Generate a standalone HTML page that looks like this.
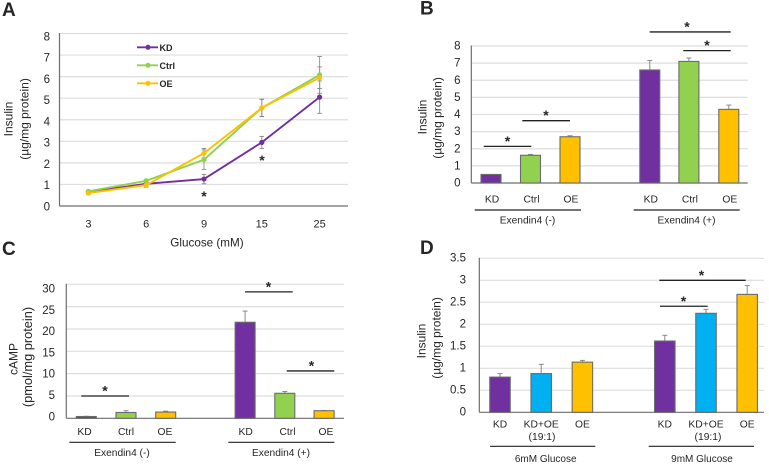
<!DOCTYPE html>
<html>
<head>
<meta charset="utf-8">
<style>
html,body{margin:0;padding:0;background:#fff;width:769px;height:464px;overflow:hidden}
svg{display:block;filter:blur(0.35px)}
text{font-family:"Liberation Sans",sans-serif;fill:#262626}
</style>
</head>
<body>
<svg id="figure" width="769" height="464" viewBox="0 0 769 464" xmlns="http://www.w3.org/2000/svg"></svg>
<script>
var PURPLE = '#7030a0', GREEN = '#92d050', YELLOW = '#ffc000', BLUE = '#00b0f0';

/* Panel A data */
var aCategories = ['3', '6', '9', '15', '25'];
var aTicks = [0, 1, 2, 3, 4, 5, 6, 7, 8];
var aKD = [0.65, 1.03, 1.25, 2.95, 5.05];
var aKDErr = [0.08, 0.15, 0.22, 0.28, 0.75];
var aCtrl = [0.68, 1.17, 2.15, 4.55, 6.08];
var aCtrlErr = [0.04, 0.05, 0.45, 0.40, 0.85];
var aOE = [0.60, 0.97, 2.45, 4.55, 5.95];
var aOEErr = [0.04, 0.10, 0.22, 0.40, 0.50];

/* Panel B data */
var bTicks = [0, 1, 2, 3, 4, 5, 6, 7, 8];
var bLabels = ['KD', 'Ctrl', 'OE', 'KD', 'Ctrl', 'OE'];
var bValues = [0.5, 1.62, 2.7, 6.6, 7.1, 4.3];
var bErrors = [0, 0.05, 0.06, 0.55, 0.2, 0.25];

/* Panel C data */
var cTicks = [0, 5, 10, 15, 20, 25, 30];
var cLabels = ['KD', 'Ctrl', 'OE', 'KD', 'Ctrl', 'OE'];
var cValues = [0.4, 1.3, 1.4, 21.5, 5.6, 1.7];
var cErrors = [0.05, 0.4, 0.2, 2.5, 0.4, 0.05];

/* Panel D data */
var dTicks = [0, 0.5, 1, 1.5, 2, 2.5, 3, 3.5];
var dLabels = ['KD', 'KD+OE', 'OE', 'KD', 'KD+OE', 'OE'];
var dValues = [0.8, 0.88, 1.14, 1.62, 2.25, 2.68];
var dErrors = [0.08, 0.21, 0.04, 0.13, 0.09, 0.2];

var NS = 'http://www.w3.org/2000/svg';
var svg = document.getElementById('figure');

function make(tag, attrs, name, parent) {
  var el = document.createElementNS(NS, tag);
  for (var k in attrs) el.setAttribute(k, attrs[k]);
  
  
  (parent || svg).appendChild(el);
  return el;
}
function line(x1, y1, x2, y2, color, w, name, parent) {
  return make('line', {x1: x1, y1: y1, x2: x2, y2: y2, stroke: color, 'stroke-width': w}, name, parent);
}
function label(x, y, str, size, anchor, name, extra) {
  var a = {x: x, y: y + 0.6, 'font-size': size, 'text-anchor': anchor || 'middle', 'dominant-baseline': 'central'};
  if (extra) for (var k in extra) a[k] = extra[k];
  var t = make('text', a, name);
  t.textContent = str;
  return t;
}
function vlabel(x, y, str, name, size) {
  return label(0, 0, str, size || 12, 'middle', name, {transform: 'translate(' + x + ',' + y + ') rotate(-90)'});
}
function star(x, y, name) {
  return label(x, y + 2.4, '*', 14, 'middle', name, {'font-weight': 'bold'});
}
function linScale(d0, d1, r0, r1) {
  return function (v) { return r0 + (v - d0) * (r1 - r0) / (d1 - d0); };
}

function drawFrame(id, ticks, y, xAxis, xRight, tickRight, labelY) {
  ticks.forEach(function (t) {
    if (t !== ticks[0]) line(xAxis, y(t), xRight, y(t), '#dedede', 1.2, id + '-gridline-' + t);
    label(tickRight, labelY(t), String(t), 11.5, 'end', id + '-y-tick-' + t);
  });
  line(xAxis, y(ticks[ticks.length - 1]) - 0.5, xAxis, y(ticks[0]), '#6e6e6e', 1.2, id + '-y-axis');
  line(xAxis, y(ticks[0]), xRight, y(ticks[0]), '#6e6e6e', 1.2, id + '-x-axis');
}

function drawBars(id, values, errors, colors, xPos, y, width) {
  values.forEach(function (v, i) {
    var cx = xPos(i);
    if (errors[i] > 0) {
      line(cx, y(v), cx, y(v + errors[i]), '#8a8a8a', 1, id + '-error-bar-' + i);
      line(cx - 2.5, y(v + errors[i]), cx + 2.5, y(v + errors[i]), '#8a8a8a', 1, id + '-error-cap-' + i);
    }
    make('rect', {x: cx - width / 2, y: y(v), width: width, height: y(0) - y(v), fill: colors[i], stroke: '#6b6b6b', 'stroke-width': 1.1}, id + '-bar-' + i);
  });
}

/* ---------- Panel A ---------- */
var ax = linScale(0, 4, 88.4, 319.6);
var ay = linScale(0, 8, 206, 33.5);
drawFrame('a', aTicks, ay, 59.5, 348, 50, linScale(0, 8, 206.7, 36.7));
aCategories.forEach(function (c, i) {
  label(ax(i), 224, c, 11, 'middle', 'a-x-tick-' + c);
});
label(207, 242.5, 'Glucose (mM)', 11.7, 'middle', 'a-x-axis-title');
vlabel(8, 119, 'Insulin', 'a-y-axis-title');
vlabel(24, 119, '(\u00b5g/mg protein)', 'a-y-axis-subtitle');

var aSeries = [
  {key: 'kd', vals: aKD, errs: aKDErr, color: PURPLE},
  {key: 'ctrl', vals: aCtrl, errs: aCtrlErr, color: GREEN},
  {key: 'oe', vals: aOE, errs: aOEErr, color: YELLOW}
];
aSeries.forEach(function (s) {
  s.vals.forEach(function (v, i) {
    var x = ax(i), e = s.errs[i];
    line(x, ay(v - e), x, ay(v + e), '#9a9a9a', 1, 'a-' + s.key + '-error-bar-' + i);
    line(x - 2.3, ay(v - e), x + 2.3, ay(v - e), '#7a7a7a', 0.8, 'a-' + s.key + '-error-cap-low-' + i);
    line(x - 2.3, ay(v + e), x + 2.3, ay(v + e), '#7a7a7a', 0.8, 'a-' + s.key + '-error-cap-high-' + i);
  });
});
aSeries.forEach(function (s) {
  var pts = s.vals.map(function (v, i) { return ax(i) + ',' + ay(v); }).join(' ');
  make('polyline', {points: pts, fill: 'none', stroke: s.color, 'stroke-width': 1.9}, 'a-' + s.key + '-line');
  s.vals.forEach(function (v, i) {
    make('circle', {cx: ax(i), cy: ay(v), r: 2.6, fill: s.color}, 'a-' + s.key + '-point-' + i);
  });
});
star(204, 193, 'a-significance-9mM');
star(262, 157, 'a-significance-15mM');
['KD', 'Ctrl', 'OE'].forEach(function (name, i) {
  var ly = 47.3 + i * 18, s = aSeries[i];
  line(137, ly, 158, ly, s.color, 1.9, 'a-legend-line-' + s.key);
  make('circle', {cx: 148, cy: ly, r: 2.5, fill: s.color}, 'a-legend-marker-' + s.key);
  label(159.5, ly + 0.3, name, 9, 'start', 'a-legend-label-' + s.key, {'font-weight': 'bold'});
});

/* ---------- Panel B ---------- */
var bxSlots = [0, 1, 2, 4.02, 5.01, 6.02];
function bx(i) { return 491 + bxSlots[i] * 39.5; }
var by = linScale(0, 8, 183, 46);
drawFrame('b', bTicks, by, 471.3, 747.7, 460.5, by);
drawBars('b', bValues, bErrors, [PURPLE, GREEN, YELLOW, PURPLE, GREEN, YELLOW], bx, by, 20);
bLabels.forEach(function (c, i) { label(bx(i) + 1, 199.5, c, 10.3, 'middle', 'b-category-' + i); });
line(474.7, 210, 581, 210, '#222', 1.2, 'b-group-line-exendin-minus');
line(633.7, 210, 739.7, 210, '#222', 1.2, 'b-group-line-exendin-plus');
label(527.5, 220.5, 'Exendin4 (-)', 10.2, 'middle', 'b-group-label-exendin-minus');
label(686.5, 220.5, 'Exendin4 (+)', 10.2, 'middle', 'b-group-label-exendin-plus');
vlabel(422, 117, 'Insulin', 'b-y-axis-title');
vlabel(437, 118, '(\u00b5g/mg protein)', 'b-y-axis-subtitle');
[[483.7, 531.3, 2.14, 507.5], [522.3, 570, 3.64, 546], [649.7, 730.7, 8.82, 687], [683.3, 730.7, 7.73, 707]].forEach(function (b, i) {
  var yy = by(b[2]);
  line(b[0], yy, b[1], yy, '#222', 1.3, 'b-significance-bracket-' + i);
  star(b[3], yy - 8.5, 'b-significance-star-' + i);
});

/* ---------- Panel C ---------- */
var cxSlots = [0, 1, 2, 4, 5, 5.99];
function cx(i) { return 86.3 + cxSlots[i] * 39.7; }
var cy = linScale(0, 30, 418.3, 284.3);
drawFrame('c', cTicks, cy, 66.3, 344, 55, linScale(0, 30, 416.7, 289));
drawBars('c', cValues, cErrors, [PURPLE, GREEN, YELLOW, PURPLE, GREEN, YELLOW], cx, cy, 20);
var cLabelX = [84.5, 126, 165, 245.7, 287.5, 326];
cLabels.forEach(function (c, i) { label(cLabelX[i], 431.7, c, 10.3, 'middle', 'c-category-' + i); });
line(69.3, 442.3, 175.7, 442.3, '#222', 1.2, 'c-group-line-exendin-minus');
line(228.3, 442.3, 334.3, 442.3, '#222', 1.2, 'c-group-line-exendin-plus');
label(122, 452.7, 'Exendin4 (-)', 10.2, 'middle', 'c-group-label-exendin-minus');
label(281, 452.7, 'Exendin4 (+)', 10.2, 'middle', 'c-group-label-exendin-plus');
vlabel(12.7, 359, 'cAMP', 'c-y-axis-title');
vlabel(27, 357, '(pmol/mg protein)', 'c-y-axis-subtitle', 12.8);
[[81.3, 129, 5.0, 105], [245, 292.7, 28.3, 268.5], [286.7, 334.3, 10.6, 311.5]].forEach(function (b, i) {
  var yy = cy(b[2]);
  line(b[0], yy, b[1], yy, '#222', 1.3, 'c-significance-bracket-' + i);
  star(b[3], yy - 8.5, 'c-significance-star-' + i);
});

/* ---------- Panel D ---------- */
var dxSlots = [0, 1, 2, 4, 5, 6];
function dx(i) { return 500 + dxSlots[i] * 41.2; }
var dy = linScale(0, 3.5, 412.3, 258.3);
drawFrame('d', dTicks, dy, 479.3, 764, 466, function (t) { return dy(t) - 0.5; });
drawBars('d', dValues, dErrors, [PURPLE, BLUE, YELLOW, PURPLE, BLUE, YELLOW], dx, dy, 20.5);
dLabels.forEach(function (c, i) { label(dx(i), 424.3, c, 10.3, 'middle', 'd-category-' + i); });
label(542, 437, '(19:1)', 10.3, 'middle', 'd-category-ratio-6mM');
label(708, 437, '(19:1)', 10.3, 'middle', 'd-category-ratio-9mM');
line(490, 446.3, 595.3, 446.3, '#222', 1.2, 'd-group-line-6mM');
line(648.7, 446.3, 754, 446.3, '#222', 1.2, 'd-group-line-9mM');
label(545.7, 459, '6mM Glucose', 10, 'middle', 'd-group-label-6mM');
label(702, 459, '9mM Glucose', 10, 'middle', 'd-group-label-9mM');
vlabel(420.7, 341, 'Insulin', 'd-y-axis-title');
vlabel(436, 338, '(\u00b5g/mg protein)', 'd-y-axis-subtitle');
[[659.3, 745.7, 3.0, 701.5], [660, 707.7, 2.41, 683.5]].forEach(function (b, i) {
  var yy = dy(b[2]);
  line(b[0], yy, b[1], yy, '#222', 1.3, 'd-significance-bracket-' + i);
  star(b[3], yy - 8.5, 'd-significance-star-' + i);
});

/* ---------- Panel letters ---------- */
label(2, 10, 'A', 19, 'start', 'panel-letter-a', {'font-weight': 'bold', fill: '#111'});
label(420, 8.5, 'B', 19, 'start', 'panel-letter-b', {'font-weight': 'bold', fill: '#111'});
label(2, 249, 'C', 19, 'start', 'panel-letter-c', {'font-weight': 'bold', fill: '#111'});
label(420, 248, 'D', 19, 'start', 'panel-letter-d', {'font-weight': 'bold', fill: '#111'});
</script>
</body>
</html>
